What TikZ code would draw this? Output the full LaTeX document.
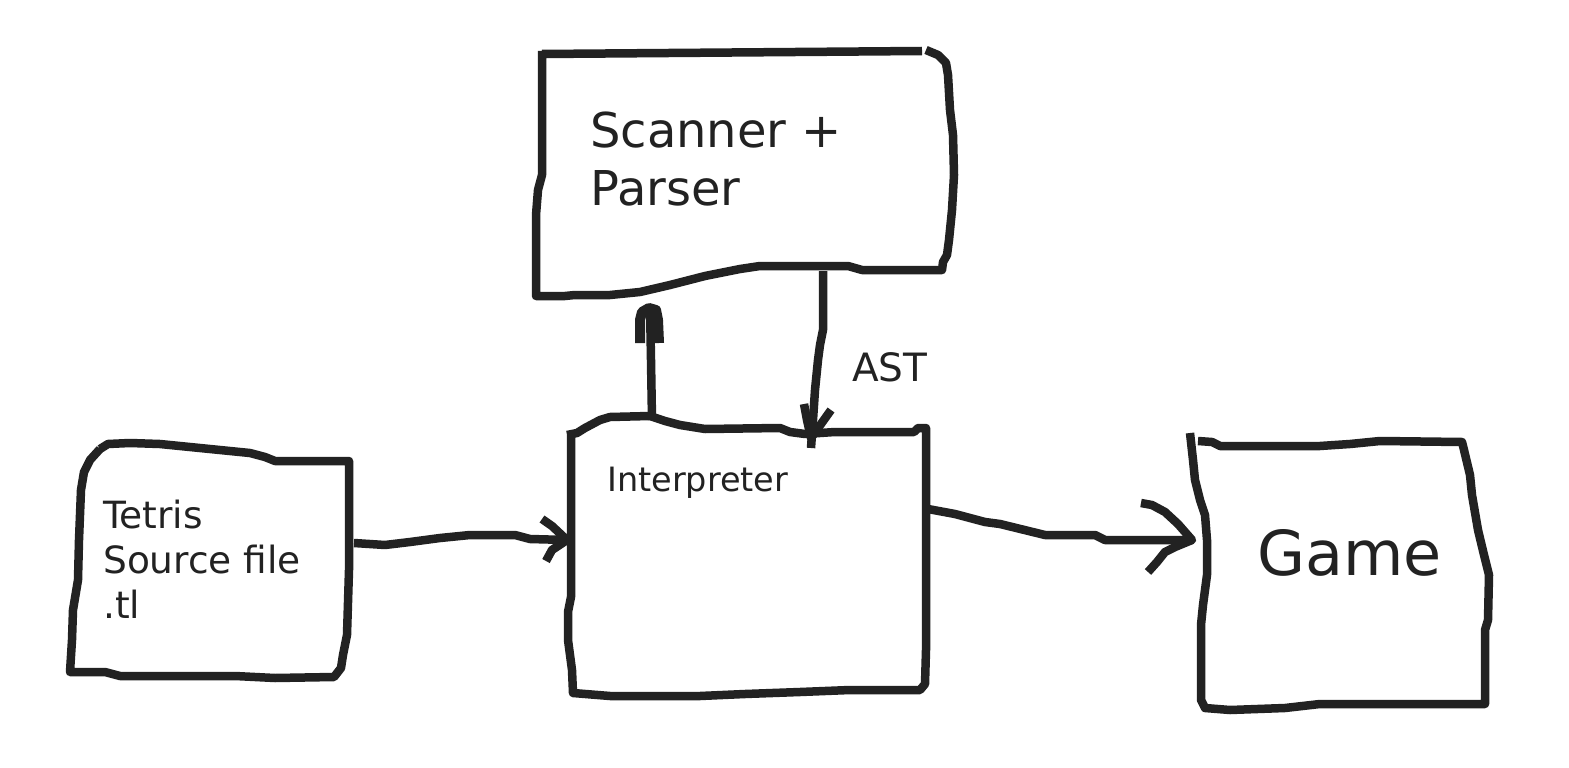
\documentclass[tikz,border=0pt]{standalone}
\usepackage{fontspec}
\setmainfont{DejaVu Sans}
\definecolor{ink}{HTML}{222222}
\begin{document}
\begin{tikzpicture}[x=1pt,y=-1pt,
  stroke/.style={draw=ink,line width=8.5pt,line join=round,line cap=butt},
  lbl/.style={text=ink,inner sep=0pt,anchor=base west,align=left}]
\path[use as bounding box,fill=white] (0,0) rectangle (1569,768);

% ---- Scanner + Parser box
\draw[stroke] (542,54) -- (922,51) (926,50) -- (938,55) -- (946,63) -- (948,75) -- (950,110) -- (953,135) -- (954,175) -- (952,210) -- (949,240) -- (947,255) -- (943,262) -- (942,270) -- (920,270) -- (862,270) -- (848,266) -- (760,266) -- (740,269) -- (705,276) -- (670,285) -- (640,292) -- (610,295) -- (575,295) -- (565,296) -- (536,296) -- (536,215) -- (538,190) -- (542,175) -- (542,51);
\node[lbl,font=\fontsize{48}{58}\selectfont] (scan) at (590,205) {Scanner +\\Parser};

% ---- Interpreter box
\draw[stroke] (571,435) -- (571,597) -- (568,612) -- (568,640) -- (572,670) -- (573,693) -- (610,696) -- (700,696) -- (745,694) -- (800,692) -- (850,690) -- (920,690) -- (925,684) -- (926,650) -- (926,428) -- (918,428) -- (914,432) -- (835,432) -- (805,434) -- (790,432) -- (780,428) -- (705,429) -- (680,425) -- (665,421) -- (650,416) -- (610,417) -- (600,420) -- (585,428) -- (577,433) -- (567,435);
\node[lbl,font=\fontsize{33.5}{40}\selectfont] (interp) at (607,491) {Interpreter};

% ---- Tetris source box
\draw[stroke] (100,449) -- (108,444) -- (130,443) -- (160,444) -- (250,453) -- (265,457) -- (275,461) -- (349,461) -- (349,570) -- (347,635) -- (343,655) -- (341,668) -- (334,677) -- (275,678) -- (235,676) -- (120,676) -- (105,672) -- (70,672) -- (72,640) -- (73,610) -- (78,580) -- (79,540) -- (81,490) -- (84,472) -- (90,460) -- (100,449);
\node[lbl,font=\fontsize{37.5}{45}\selectfont] (src) at (103,618) {Tetris\\Source file\\.tl};

% ---- Game box
\draw[stroke] (1190,433) -- (1193,460) -- (1195,480) -- (1200,500) -- (1205,515) -- (1207,540) -- (1207,575) -- (1203,605) -- (1201,625) -- (1201,700) -- (1205,708) -- (1230,710) -- (1285,708) -- (1320,704) -- (1485,704) -- (1485,630) -- (1488,620) -- (1489,575) -- (1484,555) -- (1478,530) -- (1472,495) -- (1470,475) -- (1464,450) -- (1462,442) -- (1380,441) -- (1350,444) -- (1320,446) -- (1220,446) -- (1212,442) -- (1198,441);
\node[lbl,font=\fontsize{62}{70}\selectfont] (game) at (1257,575) {Game};

% ---- connector end points
\coordinate (srcOut) at (354,543);
\coordinate (intIn) at (567,540);
\coordinate (intOut) at (928,509);
\coordinate (gameIn) at (1192,540);
\coordinate (intUp) at (652,420);
\coordinate (scanIn) at (650,306);
\coordinate (scanOut) at (823,271);
\coordinate (intTop) at (811,448);

% source -> interpreter
\draw[stroke] (srcOut) -- (385,545) -- (410,542) -- (440,538) -- (470,535) -- (515,535) -- (530,539) -- (intIn);
\draw[stroke] (542,519) -- (552,526) -- (intIn) -- (552,550) -- (546,561);

% interpreter -> game
\draw[stroke] (intOut) -- (955,514) -- (985,522) -- (1000,524) -- (1045,535) -- (1095,535) -- (1105,540) -- (gameIn);
\draw[stroke] (1141,503) -- (1152,505) -- (1165,512) -- (1178,524) -- (gameIn) -- (1175,547) -- (1165,552) -- (1157,562) -- (1148,572);

% interpreter -> scanner (up)
\draw[stroke] (intUp) -- (651,360) -- (scanIn);
\draw[stroke,line width=10pt] (640,343) -- (640,320) -- (642,312) -- (649,308) -- (656,310) -- (658,320) -- (659,343);

% scanner -> interpreter (AST)
\draw[stroke] (scanOut) -- (823,330) -- (820,345) -- (818,360) -- (815,390) -- (813,420) -- (intTop);
\draw[stroke] (804,404) -- (807,420) -- (811,438) -- (821,424) -- (831,410);
\node[lbl,font=\fontsize{39}{46}\selectfont] (ast) at (852,381) {AST};

\end{tikzpicture}
\end{document}
